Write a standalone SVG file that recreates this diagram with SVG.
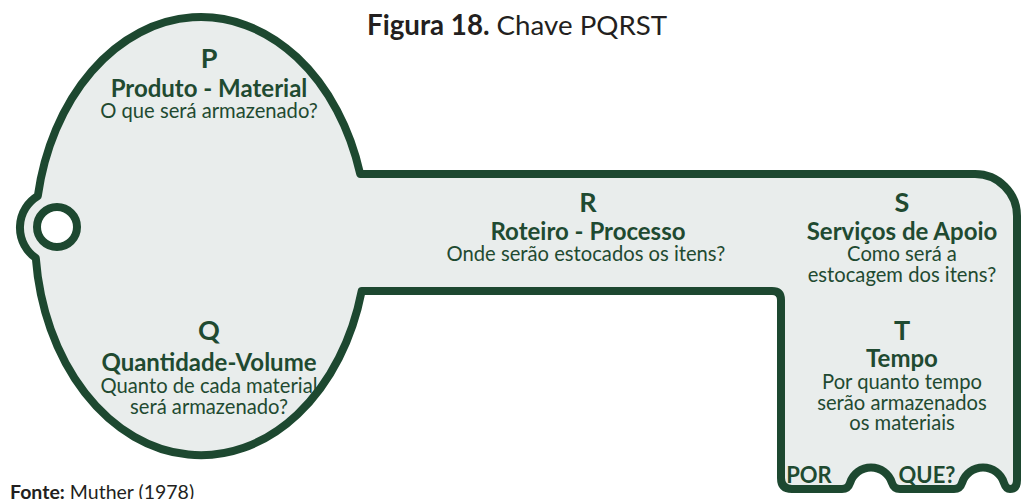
<svg xmlns="http://www.w3.org/2000/svg" width="1022" height="499" viewBox="0 0 1022 499">
<style>
.t{font-family:Lato,"Liberation Sans",sans-serif;fill:#1f4a31;text-anchor:middle}
.L{font-weight:700;font-size:27px}
.h{font-weight:700;font-size:24px}
.p{font-weight:700;font-size:22px}
.r{font-weight:400;font-size:20.2px}
.ttl{font-family:Lato,"Liberation Sans",sans-serif;fill:#231f20;font-size:27.7px}
.key{fill:#e9edec;stroke:#1d4830;stroke-width:8;stroke-linejoin:round}
</style>
<rect width="1022" height="499" fill="#ffffff"/>
<text class="ttl" x="367" y="35"><tspan font-weight="700">Figura 18.</tspan> Chave PQRST</text>
<g id="key">
<path class="key" d="M 360.2 174 L 975 174 A 42 42 0 0 1 1017 216 L 1017 480 Q 1017 489 1010 489 Q 1006 489 1004 483 A 22 22 0 0 0 962 483 Q 960 489 954 489 L 900 489 Q 894 489 892 483 A 22 22 0 0 0 850 483 Q 848 489 842 489 L 792 489 Q 781 489 781 478 L 781 300 Q 781 291 772 291 L 361.7 291 A 166 219 0 0 1 35.8 258 A 37 37 0 0 1 37.8 196 A 166 219 0 0 1 360.2 174 Z"/>
<circle cx="57" cy="227" r="20" fill="#ffffff" stroke="#1d4830" stroke-width="8"/>
</g>
<g id="node-P">
<text class="t L" x="209" y="68">P</text>
<text class="t h" x="209" y="97">Produto - Material</text>
<text class="t r" x="209" y="118">O que será armazenado?</text>
</g>
<g id="node-Q">
<text class="t L" x="209" y="340">Q</text>
<text class="t h" x="209" y="371">Quantidade-Volume</text>
<text class="t r" x="209" y="393">Quanto de cada material</text>
<text class="t r" x="209" y="414">será armazenado?</text>
</g>
<g id="node-R">
<text class="t L" x="588" y="212">R</text>
<text class="t h" x="588" y="240">Roteiro - Processo</text>
<text class="t r" x="586" y="261">Onde serão estocados os itens?</text>
</g>
<g id="node-S">
<text class="t L" x="902" y="212">S</text>
<text class="t h" x="902" y="240">Serviços de Apoio</text>
<text class="t r" x="902" y="261">Como será a</text>
<text class="t r" x="902" y="282">estocagem dos itens?</text>
</g>
<g id="node-T">
<text class="t L" x="902" y="340">T</text>
<text class="t h" x="902" y="367">Tempo</text>
<text class="t r" x="902" y="389">Por quanto tempo</text>
<text class="t r" x="902" y="410">serão armazenados</text>
<text class="t r" x="902" y="430">os materiais</text>
</g>
<g id="node-porque">
<text class="t p" x="809" y="483">POR</text>
<text class="t p" x="927" y="483">QUE?</text>
</g>
<g id="connectors"></g>
<text x="10" y="499" font-family="Lato,'Liberation Sans',sans-serif" font-size="19.5" fill="#231f20"><tspan font-weight="700">Fonte:</tspan> Muther (1978)</text>
</svg>
